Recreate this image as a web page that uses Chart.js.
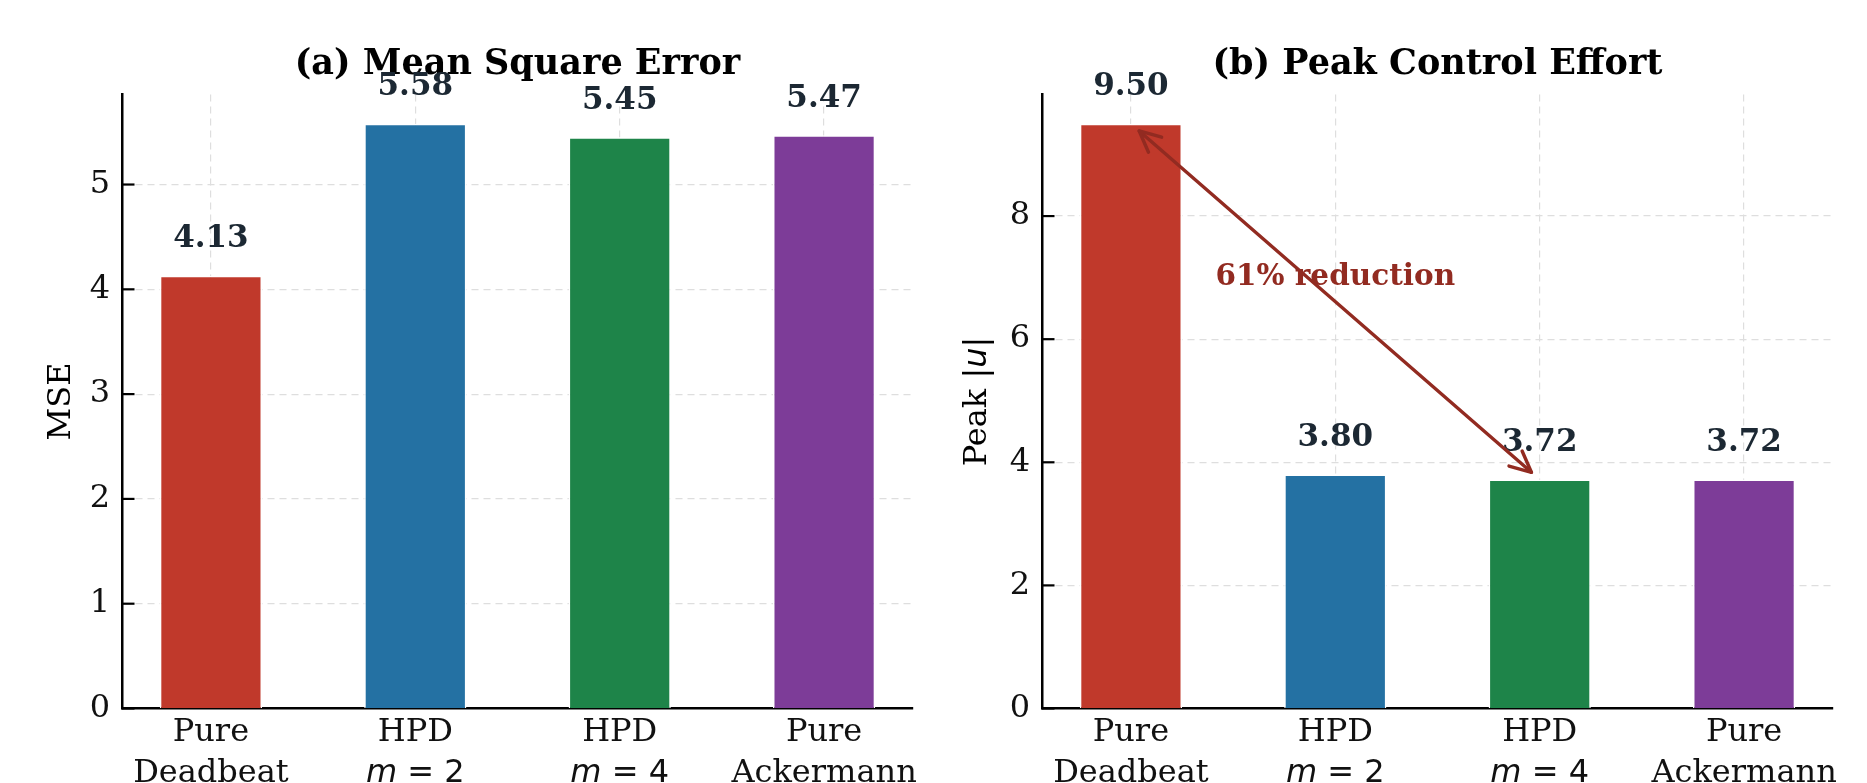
<!DOCTYPE html>
<html>
<head>
<meta charset="utf-8">
<script src="https://cdn.jsdelivr.net/npm/chart.js@4.4.1/dist/chart.umd.min.js"></script>
<style>
  html, body { margin: 0; padding: 0; background: #fff; }
  #wrap { position: relative; width: 1867px; height: 783px; }
  .panel { position: absolute; top: 0; height: 783px; }
</style>
</head>
<body>
<div id="wrap">
  <div class="panel" style="left:0;width:934px"><canvas id="mseChart"></canvas></div>
  <div class="panel" style="left:934px;width:933px"><canvas id="peakChart"></canvas></div>
</div>
<script>
// text between $...$ is drawn like matplotlib mathtext (sans, letters italic)
const categoryLines = [['Pure', 'Deadbeat'], ['HPD', '$m = 2$'], ['HPD', '$m = 4$'], ['Pure', 'Ackermann']]
const barColors = ['#c0392b', '#2471a3', '#1e8449', '#7d3c98']

const mseValues = [4.13, 5.58, 5.45, 5.47]
const mseTicks = [0, 1, 2, 3, 4, 5]

const peakValues = [9.50, 3.80, 3.72, 3.72]
const peakTicks = [0, 2, 4, 6, 8]

// arrow between Pure Deadbeat peak and HPD m=4 peak, in data units
const arrowFrom = [0, 9.50]
const arrowTo = [2, 3.72]
const arrowLabel = '61% reduction'
const arrowLabelAt = [1, 7.0]

const SERIF = '"DejaVu Serif", serif'
const SANS = '"DejaVu Sans", sans-serif'
const GRID = '#dedede'
const ARROW = '#922b21'

function drawMixed(ctx, text, cx, y, size) {
  const runs = []
  text.split('$').forEach((part, k) => {
    if (k % 2 === 0) {
      if (part) runs.push({ t: part, font: `${size}px ${SERIF}` })
    } else {
      for (const ch of part) {
        runs.push({ t: ch, font: (/[a-z]/i.test(ch) ? 'italic ' : '') + `${size}px ${SANS}` })
      }
    }
  })
  let total = 0
  runs.forEach(r => { ctx.font = r.font; r.w = ctx.measureText(r.t).width; total += r.w })
  let px = cx - total / 2
  ctx.textAlign = 'left'
  ctx.textBaseline = 'alphabetic'
  runs.forEach(r => { ctx.font = r.font; ctx.fillText(r.t, px, y); px += r.w })
}

function drawArrowHead(ctx, tipX, tipY, dx, dy) {
  const len = 21, half = 10
  const bx = tipX - dx * len, by = tipY - dy * len
  ctx.beginPath()
  ctx.moveTo(bx - dy * half, by + dx * half)
  ctx.lineTo(tipX, tipY)
  ctx.lineTo(bx + dy * half, by - dx * half)
  ctx.stroke()
}

function makeOverlay(panel) {
  return {
    id: 'overlay',
    afterDraw(chart) {
      const { ctx, chartArea: area } = chart
      const x = chart.scales.x, y = chart.scales.y
      ctx.save()

      // inward tick marks on the y spine
      ctx.strokeStyle = '#000'
      ctx.lineWidth = 2.2
      panel.ticks.forEach(v => {
        const py = y.getPixelForValue(v)
        ctx.beginPath()
        ctx.moveTo(area.left, py)
        ctx.lineTo(area.left + 12.5, py)
        ctx.stroke()
      })

      // panel title
      ctx.fillStyle = '#000'
      ctx.font = `bold 35px ${SERIF}`
      ctx.textAlign = 'center'
      ctx.textBaseline = 'alphabetic'
      ctx.fillText(panel.title, (area.left + area.right) / 2, 73.5)

      // y axis title
      ctx.save()
      ctx.translate(panel.yTitleX, (area.top + area.bottom) / 2)
      ctx.rotate(-Math.PI / 2)
      ctx.fillStyle = '#000'
      drawMixed(ctx, panel.yTitle, 0, 0, 32)
      ctx.restore()

      // category labels
      ctx.fillStyle = '#111'
      categoryLines.forEach((lines, i) => {
        const px = x.getPixelForValue(i)
        lines.forEach((t, k) => drawMixed(ctx, t, px, 741 + k * 40.5, 32))
      })

      // value labels
      ctx.font = `bold 31px ${SERIF}`
      ctx.fillStyle = '#1c2833'
      ctx.textAlign = 'center'
      panel.values.forEach((v, i) => {
        ctx.fillText(v.toFixed(2), x.getPixelForValue(i), y.getPixelForValue(v) - 28.5)
      })

      if (panel.arrow) {
        const a = panel.arrow
        ctx.font = `bold 29.5px ${SERIF}`
        ctx.fillStyle = ARROW
        ctx.textAlign = 'center'
        ctx.textBaseline = 'middle'
        ctx.fillText(a.label, x.getPixelForValue(a.labelAt[0]), y.getPixelForValue(a.labelAt[1]))

        let x1 = x.getPixelForValue(a.from[0]), y1 = y.getPixelForValue(a.from[1])
        let x2 = x.getPixelForValue(a.to[0]), y2 = y.getPixelForValue(a.to[1])
        const L = Math.hypot(x2 - x1, y2 - y1)
        const dx = (x2 - x1) / L, dy = (y2 - y1) / L
        const shrink = 11
        x1 += dx * shrink; y1 += dy * shrink
        x2 -= dx * shrink; y2 -= dy * shrink
        ctx.strokeStyle = ARROW
        ctx.lineWidth = 3.4
        ctx.lineCap = 'round'
        ctx.lineJoin = 'round'
        ctx.beginPath()
        ctx.moveTo(x1, y1)
        ctx.lineTo(x2, y2)
        ctx.stroke()
        drawArrowHead(ctx, x2, y2, dx, dy)
        drawArrowHead(ctx, x1, y1, -dx, -dy)
      }
      ctx.restore()
    }
  }
}

function renderPanel(canvasId, panel) {
  const ctx = document.getElementById(canvasId).getContext('2d')
  const yMax = Math.max(...panel.values) * 1.05

  return new Chart(ctx, {
    type: 'bar',
    data: {
      datasets: [{
        data: panel.values.map((v, i) => ({ x: i, y: v })),
        backgroundColor: barColors,
        borderColor: '#ffffff',
        borderWidth: 1.5,
        barPercentage: 0.5,
        categoryPercentage: 1.0
      }]
    },
    options: {
      responsive: true,
      maintainAspectRatio: false,
      animation: false,
      layout: { padding: { top: 94.5, left: 0, right: panel.padRight, bottom: 0 } },
      plugins: {
        legend: { display: false },
        title: { display: false },
        tooltip: { enabled: false }
      },
      scales: {
        x: {
          type: 'linear',
          min: -0.435,
          max: 3.435,
          offset: false,
          afterBuildTicks: (s) => { s.ticks = categoryLines.map((_, i) => ({ value: i })) },
          afterFit: (s) => { s.height = 74.5 },
          ticks: { callback: () => '', font: { family: SERIF, size: 32 } },
          grid: { offset: false, color: GRID, lineWidth: 1.2, drawTicks: false },
          border: { color: '#000', width: 2.5, dash: [7, 5] }
        },
        y: {
          min: 0,
          max: yMax,
          afterBuildTicks: (s) => { s.ticks = panel.ticks.map(v => ({ value: v })) },
          afterFit: (s) => { s.width = panel.axisLeft },
          ticks: {
            font: { family: SERIF, size: 32 },
            color: '#111',
            padding: 12
          },
          grid: {
            color: (c) => (c.tick && c.tick.value === 0 ? 'rgba(0,0,0,0)' : GRID),
            lineWidth: 1.2,
            drawTicks: false
          },
          border: { color: '#000', width: 2.5, dash: [7, 5] }
        }
      }
    },
    plugins: [makeOverlay(panel)]
  })
}

renderPanel('mseChart', {
  title: '(a) Mean Square Error',
  yTitle: 'MSE',
  yTitleX: 70,
  values: mseValues,
  ticks: mseTicks,
  axisLeft: 122,
  padRight: 21
})

renderPanel('peakChart', {
  title: '(b) Peak Control Effort',
  yTitle: 'Peak $|u|$',
  yTitleX: 52,
  values: peakValues,
  ticks: peakTicks,
  axisLeft: 108,
  padRight: 34,
  arrow: { from: arrowFrom, to: arrowTo, label: arrowLabel, labelAt: arrowLabelAt }
})
</script>
</body>
</html>
